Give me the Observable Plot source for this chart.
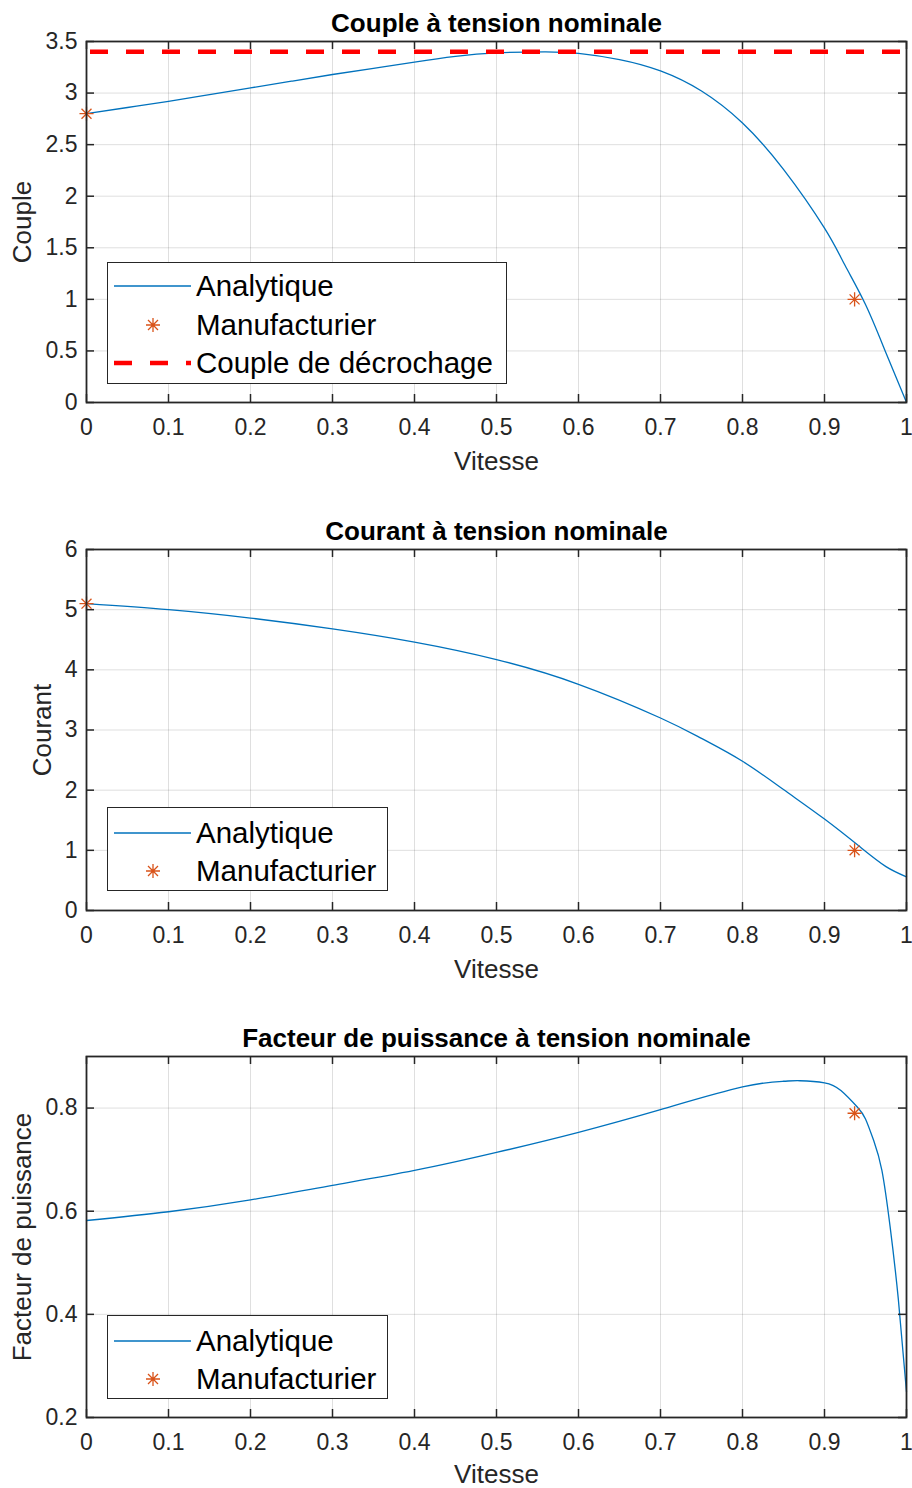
<!DOCTYPE html>
<html>
<head>
<meta charset="utf-8">
<script src="https://cdn.jsdelivr.net/npm/d3@7"></script>
<script src="https://cdn.jsdelivr.net/npm/@observablehq/plot@0.6"></script>
<style>
  html, body { margin: 0; padding: 0; background: #fff; }
  #page { position: relative; width: 912px; height: 1488px; font-family: "Liberation Sans", Arial, sans-serif; }
  .sub { position: absolute; left: 0; }
  .legend { position: absolute; background: #fff; border: 1px solid #262626; box-sizing: border-box; }
  .legend .row { position: absolute; left: 0; height: 38px; width: 100%; }
  .legend svg { position: absolute; left: 0; top: 0; }
  .legend span { position: absolute; left: 88px; top: 50%; transform: translateY(-52%); font-size: 29.5px; color: #000; white-space: nowrap; line-height: 1; }
</style>
</head>
<body>
<div id="page"></div>
<script>
// ---------- Data ----------
const xTicks = [0, 0.1, 0.2, 0.3, 0.4, 0.5, 0.6, 0.7, 0.8, 0.9, 1];

// Couple
const vitesseCouple = [0, 0.05, 0.1, 0.15, 0.2, 0.25, 0.3, 0.35, 0.4, 0.45, 0.5, 0.56, 0.6, 0.65, 0.7, 0.75, 0.8, 0.85, 0.9, 0.925, 0.95, 0.975, 1];
const couple        = [2.80, 2.86, 2.92, 2.985, 3.05, 3.115, 3.18, 3.24, 3.30, 3.355, 3.39, 3.40, 3.385, 3.325, 3.215, 3.02, 2.71, 2.26, 1.69, 1.33, 0.95, 0.48, 0];
const coupleTicks = [0, 0.5, 1, 1.5, 2, 2.5, 3, 3.5];
const coupleManufVitesse = [0, 0.9367];
const coupleManuf = [2.8, 1.0];
const coupleDecrochage = 3.4;

// Courant
const vitesseCourant = [0, 0.1, 0.2, 0.3, 0.4, 0.5, 0.6, 0.7, 0.75, 0.8, 0.85, 0.9, 0.944, 0.975, 1];
const courant        = [5.10, 5.00, 4.86, 4.68, 4.46, 4.17, 3.76, 3.20, 2.86, 2.48, 2.01, 1.52, 1.05, 0.73, 0.56];
const courantTicks = [0, 1, 2, 3, 4, 5, 6];
const courantManufVitesse = [0, 0.9367];
const courantManuf = [5.1, 1.0];

// Facteur de puissance
const vitesseFP = [0, 0.1, 0.2, 0.3, 0.4, 0.5, 0.6, 0.7, 0.8, 0.85, 0.87, 0.9, 0.92, 0.94, 0.95, 0.96, 0.97, 0.98, 0.99, 1];
const facteurPuissance = [0.582, 0.599, 0.622, 0.650, 0.679, 0.714, 0.753, 0.797, 0.841, 0.852, 0.853, 0.849, 0.834, 0.802, 0.779, 0.737, 0.679, 0.57, 0.43, 0.25];
const fpTicks = [0.2, 0.4, 0.6, 0.8];
const fpManufVitesse = [0.9367];
const fpManuf = [0.79];

const titles = ["Couple à tension nominale", "Courant à tension nominale", "Facteur de puissance à tension nominale"];
const yLabels = ["Couple", "Courant", "Facteur de puissance"];
const xLabel = "Vitesse";
const legendLabels = ["Analytique", "Manufacturier", "Couple de décrochage"];

// ---------- Styles ----------
const BLUE = "#0072BD", ORANGE = "#D95319", AXC = "#262626";
const FONT = '"Liberation Sans", Arial, sans-serif';
const FRAME_H = 361, MT = 41, ML = 86, MR = 6, W = 912;
const TICK_FS = 23, LABEL_FS = 26, TITLE_FS = 26;
const fmt = d => String(+d.toFixed(2));

function subplot({title, ylabel, yDomain, yTicks, xs, ys, mx, my, ylabelDx, mb = 80, xlabelDy = 59, curve = "natural", extra = []}) {
  const line = xs.map((x, i) => ({x, y: ys[i]}));
  const pts = mx.map((x, i) => ({x, y: my[i]}));
  return Plot.plot({
    width: W, height: FRAME_H + MT + mb,
    marginTop: MT, marginBottom: mb, marginLeft: ML, marginRight: MR,
    style: {fontFamily: FONT, background: "#fff", overflow: "visible"},
    x: {domain: [0, 1], axis: null},
    y: {domain: yDomain, axis: null},
    marks: [
      Plot.gridX(xTicks, {stroke: AXC, strokeOpacity: 0.15, strokeWidth: 1}),
      Plot.gridY(yTicks, {stroke: AXC, strokeOpacity: 0.15, strokeWidth: 1}),
      Plot.line(line, {x: "x", y: "y", stroke: BLUE, strokeWidth: 1.3, curve}),
      ...extra,
      Plot.dot(pts, {x: "x", y: "y", symbol: "plus", r: 4.6, stroke: ORANGE, strokeWidth: 1.3}),
      Plot.dot(pts, {x: "x", y: "y", symbol: "times", r: 4.6, stroke: ORANGE, strokeWidth: 1.3}),
      // inward ticks
      Plot.tickX(xTicks, {x: d => d, insetTop: FRAME_H - 8, stroke: AXC, strokeWidth: 1.5}),
      Plot.tickX(xTicks, {x: d => d, insetBottom: FRAME_H - 8, stroke: AXC, strokeWidth: 1.5}),
      Plot.tickY(yTicks, {y: d => d, insetRight: (W - ML - MR) - 8, stroke: AXC, strokeWidth: 1.5}),
      Plot.tickY(yTicks, {y: d => d, insetLeft: (W - ML - MR) - 8, stroke: AXC, strokeWidth: 1.5}),
      Plot.frame({stroke: AXC, strokeWidth: 1.8}),
      // tick labels
      Plot.text(xTicks, {x: d => d, text: fmt, frameAnchor: "bottom", dy: 25, fontSize: TICK_FS, fill: AXC, lineAnchor: "middle"}),
      Plot.text(yTicks, {y: d => d, text: fmt, frameAnchor: "left", dx: -9, textAnchor: "end", fontSize: TICK_FS, fill: AXC, lineAnchor: "middle"}),
      // labels
      Plot.text([xLabel], {frameAnchor: "bottom", dy: xlabelDy, fontSize: LABEL_FS, fill: AXC, lineAnchor: "middle", textAnchor: "middle"}),
      Plot.text([ylabel], {frameAnchor: "left", dx: ylabelDx, rotate: -90, fontSize: LABEL_FS, fill: AXC, lineAnchor: "middle", textAnchor: "middle"}),
      Plot.text([title], {frameAnchor: "top", dy: -18, fontSize: TITLE_FS, fontWeight: "bold", fill: "#000", lineAnchor: "middle", textAnchor: "middle"})
    ]
  });
}

function legend(page, {left, top, width, height, rows}) {
  const box = document.createElement("div");
  box.className = "legend";
  Object.assign(box.style, {left: left + "px", top: top + "px", width: width + "px", height: height + "px"});
  const svgNS = "http://www.w3.org/2000/svg";
  rows.forEach(r => {
    const row = document.createElement("div");
    row.className = "row";
    row.style.top = (r.cy - 19) + "px";
    const svg = document.createElementNS(svgNS, "svg");
    svg.setAttribute("width", 88); svg.setAttribute("height", 38);
    if (r.kind === "star") {
      const p = document.createElementNS(svgNS, "path");
      const cx = 45, cy = 19, a = 7, b = 5;
      p.setAttribute("d", `M${cx-a},${cy}H${cx+a}M${cx},${cy-a}V${cy+a}M${cx-b},${cy-b}L${cx+b},${cy+b}M${cx-b},${cy+b}L${cx+b},${cy-b}`);
      p.setAttribute("stroke", ORANGE); p.setAttribute("stroke-width", 1.3); p.setAttribute("fill", "none");
      svg.appendChild(p);
    } else {
      const l = document.createElementNS(svgNS, "line");
      l.setAttribute("x1", 6); l.setAttribute("x2", 83); l.setAttribute("y1", 19); l.setAttribute("y2", 19);
      if (r.kind === "line") {
        l.setAttribute("stroke", BLUE); l.setAttribute("stroke-width", 1.3);
      } else {
        l.setAttribute("stroke", "#FF0000"); l.setAttribute("stroke-width", 4.5); l.setAttribute("stroke-dasharray", "18,18");
      }
      svg.appendChild(l);
    }
    row.appendChild(svg);
    const s = document.createElement("span");
    s.textContent = r.label;
    row.appendChild(s);
    box.appendChild(row);
  });
  page.appendChild(box);
}

const page = document.getElementById("page");
const tops = [0, 508, 1015];

const p1 = subplot({
  title: titles[0], ylabel: yLabels[0], yDomain: [0, 3.5], yTicks: coupleTicks,
  xs: vitesseCouple, ys: couple, mx: coupleManufVitesse, my: coupleManuf, ylabelDx: -64,
  extra: [Plot.ruleY([coupleDecrochage], {stroke: "#FF0000", strokeWidth: 4.5, strokeDasharray: "18,18", strokeDashoffset: 32})]
});
const p2 = subplot({
  title: titles[1], ylabel: yLabels[1], yDomain: [0, 6], yTicks: courantTicks,
  xs: vitesseCourant, ys: courant, mx: courantManufVitesse, my: courantManuf, ylabelDx: -44
});
const p3 = subplot({
  title: titles[2], ylabel: yLabels[2], yDomain: [0.2, 0.9], yTicks: fpTicks,
  xs: vitesseFP, ys: facteurPuissance, mx: fpManufVitesse, my: fpManuf, ylabelDx: -64,
  mb: 72, xlabelDy: 57
});
[p1, p2, p3].forEach((p, i) => {
  p.classList.add("sub");
  p.style.top = tops[i] + "px";
  page.appendChild(p);
});

legend(page, {left: 107, top: 262, width: 400, height: 122, rows: [
  {cy: 23, kind: "line", label: legendLabels[0]},
  {cy: 61.5, kind: "star", label: legendLabels[1]},
  {cy: 100, kind: "dash", label: legendLabels[2]}
]});
legend(page, {left: 107, top: 807, width: 281, height: 84, rows: [
  {cy: 24.5, kind: "line", label: legendLabels[0]},
  {cy: 63, kind: "star", label: legendLabels[1]}
]});
legend(page, {left: 107, top: 1315, width: 281, height: 84, rows: [
  {cy: 24.5, kind: "line", label: legendLabels[0]},
  {cy: 63, kind: "star", label: legendLabels[1]}
]});
</script>
</body>
</html>
